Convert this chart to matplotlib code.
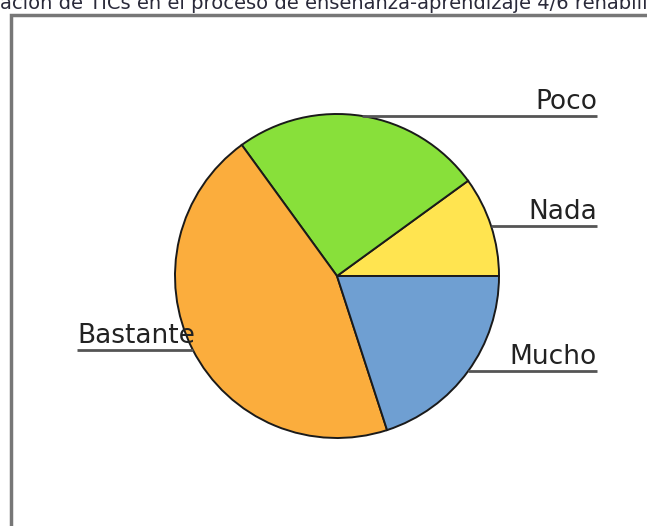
import numpy as np
import matplotlib.pyplot as plt
from matplotlib.patches import Rectangle

# slice data, counterclockwise from 3 o'clock
labels = ['Nada', 'Poco', 'Bastante', 'Mucho']
values = [10, 25, 45, 20]
colors = ['#FFE450', '#88E03A', '#FBAD3D', '#6F9FD2']

# the reference only shows this (cropped) part of the title
title = 'ación de TICs en el proceso de enseñanza-aprendizaje 4/6 rehabili'

W, H = 647, 526
fig = plt.figure(figsize=(W / 100, H / 100), dpi=100)
ax = fig.add_axes([0, 0, 1, 1])

cx, cy, r = 337, H - 276, 162
wedges, _ = ax.pie(values, colors=colors, startangle=0, counterclock=True,
                   center=(cx, cy), radius=r,
                   wedgeprops=dict(edgecolor='#1a1a1a', linewidth=1.4))

# leader lines + labels
for w, lab in zip(wedges, labels):
    mid = np.deg2rad((w.theta1 + w.theta2) / 2)
    ex, ey = cx + r * np.cos(mid), cy + r * np.sin(mid)
    if np.cos(mid) >= 0:
        x_end, ha = 597, 'right'
    else:
        x_end, ha = 77, 'left'
    ax.plot([ex, x_end], [ey, ey], color='#555555', lw=2, solid_capstyle='butt', zorder=3)
    ax.text(x_end, ey + 7, lab, ha=ha, va='baseline', fontsize=19,
            color='#222222', family='DejaVu Sans', zorder=4)

# outer frame (runs off the right/bottom)
ax.add_patch(Rectangle((11, -20), 700, H - 15 + 20, fill=False,
                       edgecolor='#777777', lw=2.5, zorder=1))

ax.text(W / 2, H - 9, title, ha='center', va='baseline', fontsize=14,
        color='#2a2a3a', family='DejaVu Sans')

ax.set_xlim(0, W)
ax.set_ylim(0, H)
ax.set_aspect('equal')
ax.axis('off')

fig.savefig('out.png', dpi=100)
